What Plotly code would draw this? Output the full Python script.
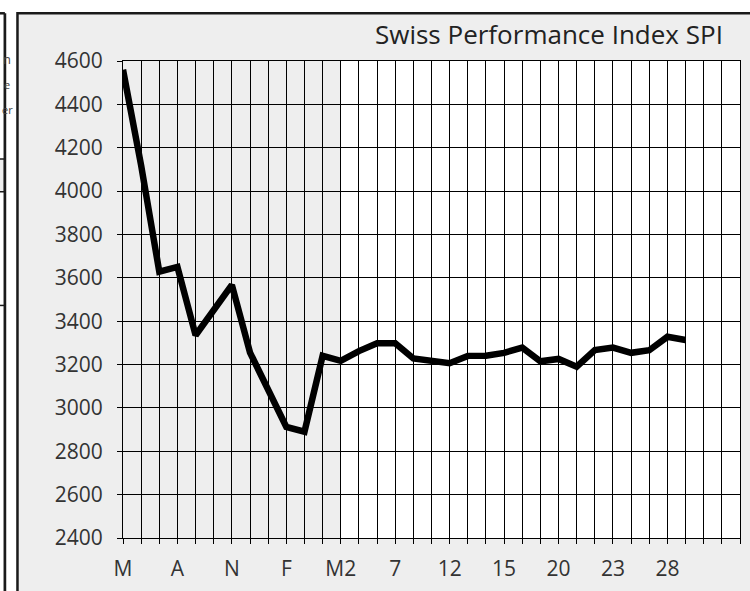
import plotly.graph_objects as go

# ---- data ----
spi_values = [4560, 4118, 3628, 3650, 3335, 3447, 3567, 3255, 3085, 2912,
              2890, 3240, 3217, 3262, 3298, 3298, 3228, 3219, 3206, 3240,
              3241, 3254, 3278, 3215, 3226, 3190, 3267, 3278, 3254, 3266,
              3328, 3313]
n_categories = 35
tick_labels = ["M", "A", "N", "F", "M2", "7", "12", "15", "20", "23", "28"]
label_step = 3
shaded_until = 12
y_ticks = [2400, 2600, 2800, 3000, 3200, 3400, 3600, 3800, 4000, 4200, 4400, 4600]
title_text = "Swiss Performance Index SPI"

# ---- layout geometry (pixels) ----
W, H = 750, 591
L, R, T, B = 123, 9, 61, 48
PW, PH = W - L - R, H - T - B

def px_x(p):
    return (p - L) / PW

def px_y(p):
    return (H - B - p) / PH

x_idx = list(range(len(spi_values)))
tickvals = list(range(n_categories))
ticktext = [""] * n_categories
for k, lab in enumerate(tick_labels):
    ticktext[k * label_step] = lab

FONT = "Open Sans"
TXT = "#333333"

fig = go.Figure()
fig.add_trace(go.Scatter(x=x_idx, y=spi_values, mode="lines",
                         line=dict(color="black", width=6.5),
                         hoverinfo="skip", showlegend=False))

# fraction of the x range that is shaded (x axis runs from 0 to n_categories-1)
shade_frac = shaded_until / (n_categories - 1)

shapes = [
    # big gray frame of the chart
    dict(type="rect", xref="paper", yref="paper", layer="below",
         x0=px_x(17.3), x1=px_x(770), y0=px_y(620), y1=px_y(12.8),
         fillcolor="#EEEEEE", line=dict(color="#1a1a1a", width=2.5)),
    # white (un-shaded) part of the plot area, drawn under the gridlines
    dict(type="rect", xref="paper", yref="paper", layer="below",
         x0=shade_frac, x1=1, y0=0, y1=1,
         fillcolor="white", line=dict(width=0)),
    # neighbouring element on the left edge
    dict(type="line", xref="paper", yref="paper", layer="below",
         x0=px_x(4.7), x1=px_x(4.7), y0=px_y(620), y1=px_y(12.8),
         line=dict(color="#1a1a1a", width=2.7)),
    dict(type="line", xref="paper", yref="paper", layer="below",
         x0=px_x(-10), x1=px_x(4.7), y0=px_y(12.8), y1=px_y(12.8),
         line=dict(color="#1a1a1a", width=2.5)),
    dict(type="rect", xref="paper", yref="paper", layer="below",
         x0=px_x(-10), x1=px_x(4), y0=px_y(193), y1=px_y(160),
         fillcolor="#EEEEEE", line=dict(color="#1a1a1a", width=1.5)),
    dict(type="line", xref="paper", yref="paper", layer="below",
         x0=px_x(-10), x1=px_x(4.7), y0=px_y(308), y1=px_y(308),
         line=dict(color="#1a1a1a", width=1.5)),
]

annotations = [
    dict(text=title_text, xref="paper", yref="paper", x=px_x(726), y=px_y(34),
         xanchor="right", yanchor="middle", showarrow=False,
         font=dict(family=FONT, size=26, color="#222222")),
    dict(text="n", xref="paper", yref="paper", x=px_x(1), y=px_y(59),
         xanchor="left", yanchor="middle", showarrow=False,
         font=dict(family=FONT, size=13, color="#444444")),
    dict(text="e", xref="paper", yref="paper", x=px_x(2), y=px_y(85),
         xanchor="left", yanchor="middle", showarrow=False,
         font=dict(family=FONT, size=11, color="#444444")),
    dict(text="er", xref="paper", yref="paper", x=px_x(0), y=px_y(110),
         xanchor="left", yanchor="middle", showarrow=False,
         font=dict(family=FONT, size=11, color="#444444")),
]

fig.update_layout(
    width=W, height=H,
    margin=dict(l=L, r=R, t=T, b=B, pad=0),
    paper_bgcolor="white",
    plot_bgcolor="rgba(0,0,0,0)",
    shapes=shapes,
    annotations=annotations,
    showlegend=False,
    xaxis=dict(range=[0, n_categories - 1], tickmode="array",
               tickvals=tickvals, ticktext=ticktext,
               showgrid=True, gridcolor="black", gridwidth=1,
               zeroline=False, showline=True, mirror=True,
               linecolor="black", linewidth=1,
               ticks="outside", ticklen=5, tickcolor="black", tickwidth=1,
               ticklabelstandoff=7,
               tickfont=dict(family=FONT, size=21, color=TXT)),
    yaxis=dict(range=[y_ticks[0], y_ticks[-1]], tickmode="array",
               tickvals=y_ticks,
               showgrid=True, gridcolor="black", gridwidth=1,
               zeroline=False, showline=True, mirror=True,
               linecolor="black", linewidth=1,
               ticks="outside", ticklen=5, tickcolor="black", tickwidth=1,
               ticklabelstandoff=10,
               tickfont=dict(family=FONT, size=21, color=TXT)),
)

fig.write_html("out.html",
               config={"displayModeBar": False},
               post_script="document.body.style.margin='0';"
                           "document.body.style.overflow='hidden';")
